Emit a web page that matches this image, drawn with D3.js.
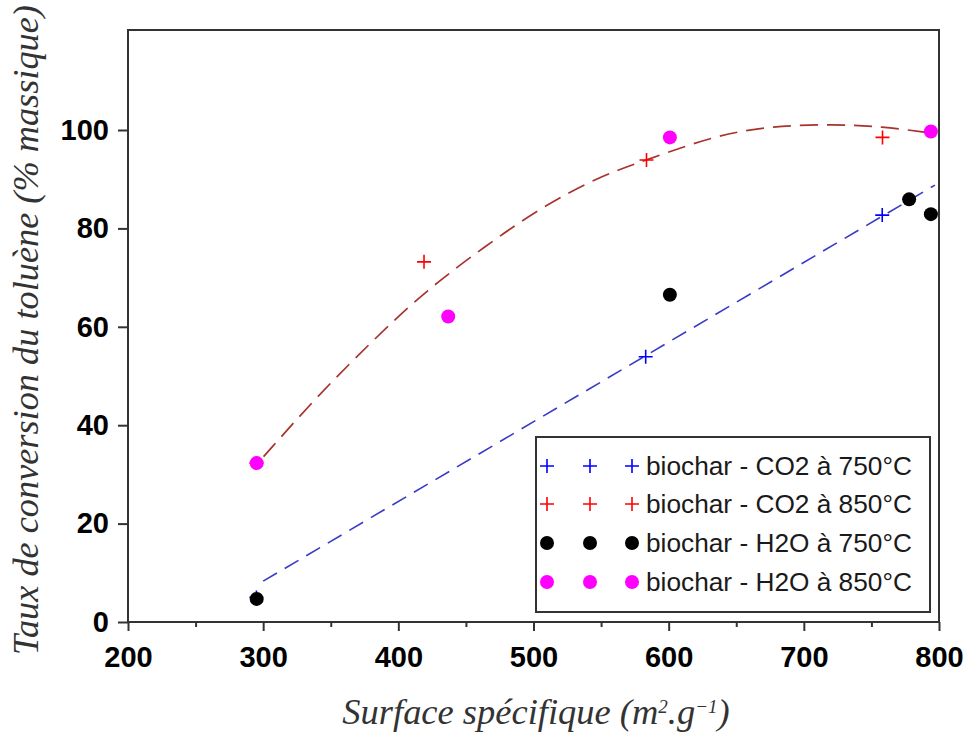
<!DOCTYPE html>
<html><head><meta charset="utf-8">
<script src="https://cdn.jsdelivr.net/npm/d3@7"></script>
<style>body{margin:0;background:#fff}</style>
</head><body><svg id="c" width="968" height="733"></svg>
<script>
// ---- data ----
const xTicks = [200, 300, 400, 500, 600, 700, 800];
const xMinorTicks = [250, 350, 450, 550, 650, 750];
const yTicks = [0, 20, 40, 60, 80, 100];
const seriesNames = ["biochar - CO2 à 750°C", "biochar - CO2 à 850°C", "biochar - H2O à 750°C", "biochar - H2O à 850°C"];
const co2_750_x = [295, 583, 758];
const co2_750_y = [5, 53.9, 82.7];
const co2_850_x = [295, 419, 583.6, 758.2];
const co2_850_y = [32.3, 73.2, 93.9, 98.5];
const h2o_750_x = [295.2, 600.9, 777.9, 794];
const h2o_750_y = [4.7, 66.5, 85.9, 82.9];
const h2o_850_x = [295.2, 436.9, 600.9, 794];
const h2o_850_y = [32.3, 62.1, 98.5, 99.7];
const trendLinX = [300, 797];
const trendLinY = [8.3, 88.8];
const trendQuadX = [300.3, 339.6, 381.4, 420.9, 465.3, 504.7, 547.9, 583.6, 635.4, 677, 721.5, 758.5, 790.7, 797];
const trendQuadY = [33.6, 45.8, 57.3, 67.5, 76.6, 84.1, 90.5, 93.9, 99, 100.8, 101.2, 100.7, 99.5, 99.3];

// ---- layout ----
const svg = d3.select("#c");
const L = 128, R = 939, T = 30, B = 622;
const x = d3.scaleLinear().domain([200, 800]).range([L, R]);
const y = d3.scaleLinear().domain([0, 100]).range([B, 130]);
const tickFont = "'Liberation Sans', Arial, sans-serif";
const frameCol = "#333";

// frame
svg.append("rect").attr("x", L).attr("y", T).attr("width", R - L).attr("height", B - T)
  .attr("fill", "none").attr("stroke", frameCol).attr("stroke-width", 2);

// x axis
const xAxis = d3.axisBottom(x).tickValues(xTicks).tickSize(9).tickPadding(15).tickFormat(d3.format("d"));
const gx = svg.append("g").attr("transform", `translate(0,${B})`).call(xAxis);
const xMinor = d3.axisBottom(x).tickValues(xMinorTicks).tickSize(5).tickFormat("");
const gxm = svg.append("g").attr("transform", `translate(0,${B})`).call(xMinor);
gxm.select(".domain").remove();
// y axis
const yAxis = d3.axisLeft(y).tickValues(yTicks).tickSize(10).tickPadding(9).tickFormat(d3.format("d"));
const gy = svg.append("g").attr("transform", `translate(${L},0)`).call(yAxis);
[gx, gy, gxm].forEach(g => {
  g.selectAll(".domain").remove();
  g.selectAll(".tick line").attr("stroke", frameCol).attr("stroke-width", 2);
  g.selectAll(".tick text").attr("fill", "#000").style("font-family", tickFont)
    .style("font-weight", "bold").style("font-size", "29px");
});

// trend lines
const lineGen = d3.line().x(d => x(d[0])).y(d => y(d[1]));
svg.append("path").datum(d3.zip(trendLinX, trendLinY)).attr("d", lineGen)
  .attr("fill", "none").attr("stroke", "#3a3ac8").attr("stroke-width", 1.6).attr("stroke-dasharray", "16,9");
svg.append("path").datum(d3.zip(trendQuadX, trendQuadY)).attr("d", lineGen.curve(d3.curveBasis))
  .attr("fill", "none").attr("stroke", "#a8332e").attr("stroke-width", 1.7).attr("stroke-dasharray", "18,9");

// markers
function plus(g, cx, cy, col) {
  g.append("path").attr("d", `M${cx - 7},${cy}H${cx + 7}M${cx},${cy - 7}V${cy + 7}`)
    .attr("stroke", col).attr("stroke-width", 1.6).attr("fill", "none");
}
function dot(g, cx, cy, col) {
  g.append("circle").attr("cx", cx).attr("cy", cy).attr("r", 7).attr("fill", col);
}
const pts = svg.append("g");
d3.zip(co2_750_x, co2_750_y).forEach(d => plus(pts, x(d[0]), y(d[1]), "#0000ff"));
d3.zip(co2_850_x, co2_850_y).forEach(d => plus(pts, x(d[0]), y(d[1]), "#ff0000"));
d3.zip(h2o_750_x, h2o_750_y).forEach(d => dot(pts, x(d[0]), y(d[1]), "#000000"));
d3.zip(h2o_850_x, h2o_850_y).forEach(d => dot(pts, x(d[0]), y(d[1]), "#ff00ff"));

// legend
const lg = svg.append("g");
lg.append("rect").attr("x", 536).attr("y", 437).attr("width", 394).attr("height", 175)
  .attr("fill", "#fff").attr("stroke", frameCol).attr("stroke-width", 2);
const legCols = ["#0000ff", "#ff0000", "#000000", "#ff00ff"];
const rowY = [466, 504, 543, 582];
seriesNames.forEach((name, i) => {
  [547, 590, 632].forEach(mx => {
    if (i < 2) plus(lg, mx, rowY[i], legCols[i]); else dot(lg, mx, rowY[i], legCols[i]);
  });
  const t = lg.append("text").attr("x", 646).attr("y", rowY[i] + 9).text(name)
    .style("font-family", tickFont).style("font-size", "25px").attr("fill", "#1a1a1a");
  const w = t.node().getComputedTextLength();
  t.style("font-size", (25 * 266 / w) + "px");
});

// axis titles
const serif = "'Liberation Serif', 'DejaVu Serif', serif";
const xt = svg.append("text").attr("x", 536).attr("y", 724).attr("text-anchor", "middle")
  .style("font-family", serif).style("font-style", "italic").style("font-size", "28px").attr("fill", "#333");
xt.append("tspan").text("Surface spécifique (m");
xt.append("tspan").text("2").attr("dy", -11).style("font-size", "19px");
xt.append("tspan").text(".g").attr("dy", 11);
xt.append("tspan").text("−1").attr("dy", -11).style("font-size", "19px");
xt.append("tspan").text(")").attr("dy", 11);
const xl = xt.node().getComputedTextLength();
xt.style("font-size", (28 * 397 / xl) + "px");

const yt = svg.append("text").attr("transform", "translate(38,330) rotate(-90)").attr("text-anchor", "middle")
  .style("font-family", serif).style("font-style", "italic").style("font-size", "28px").attr("fill", "#333")
  .text("Taux de conversion du toluène (% massique)");
const yl = yt.node().getComputedTextLength();
yt.style("font-size", (28 * 650 / yl) + "px");
</script></body></html>
